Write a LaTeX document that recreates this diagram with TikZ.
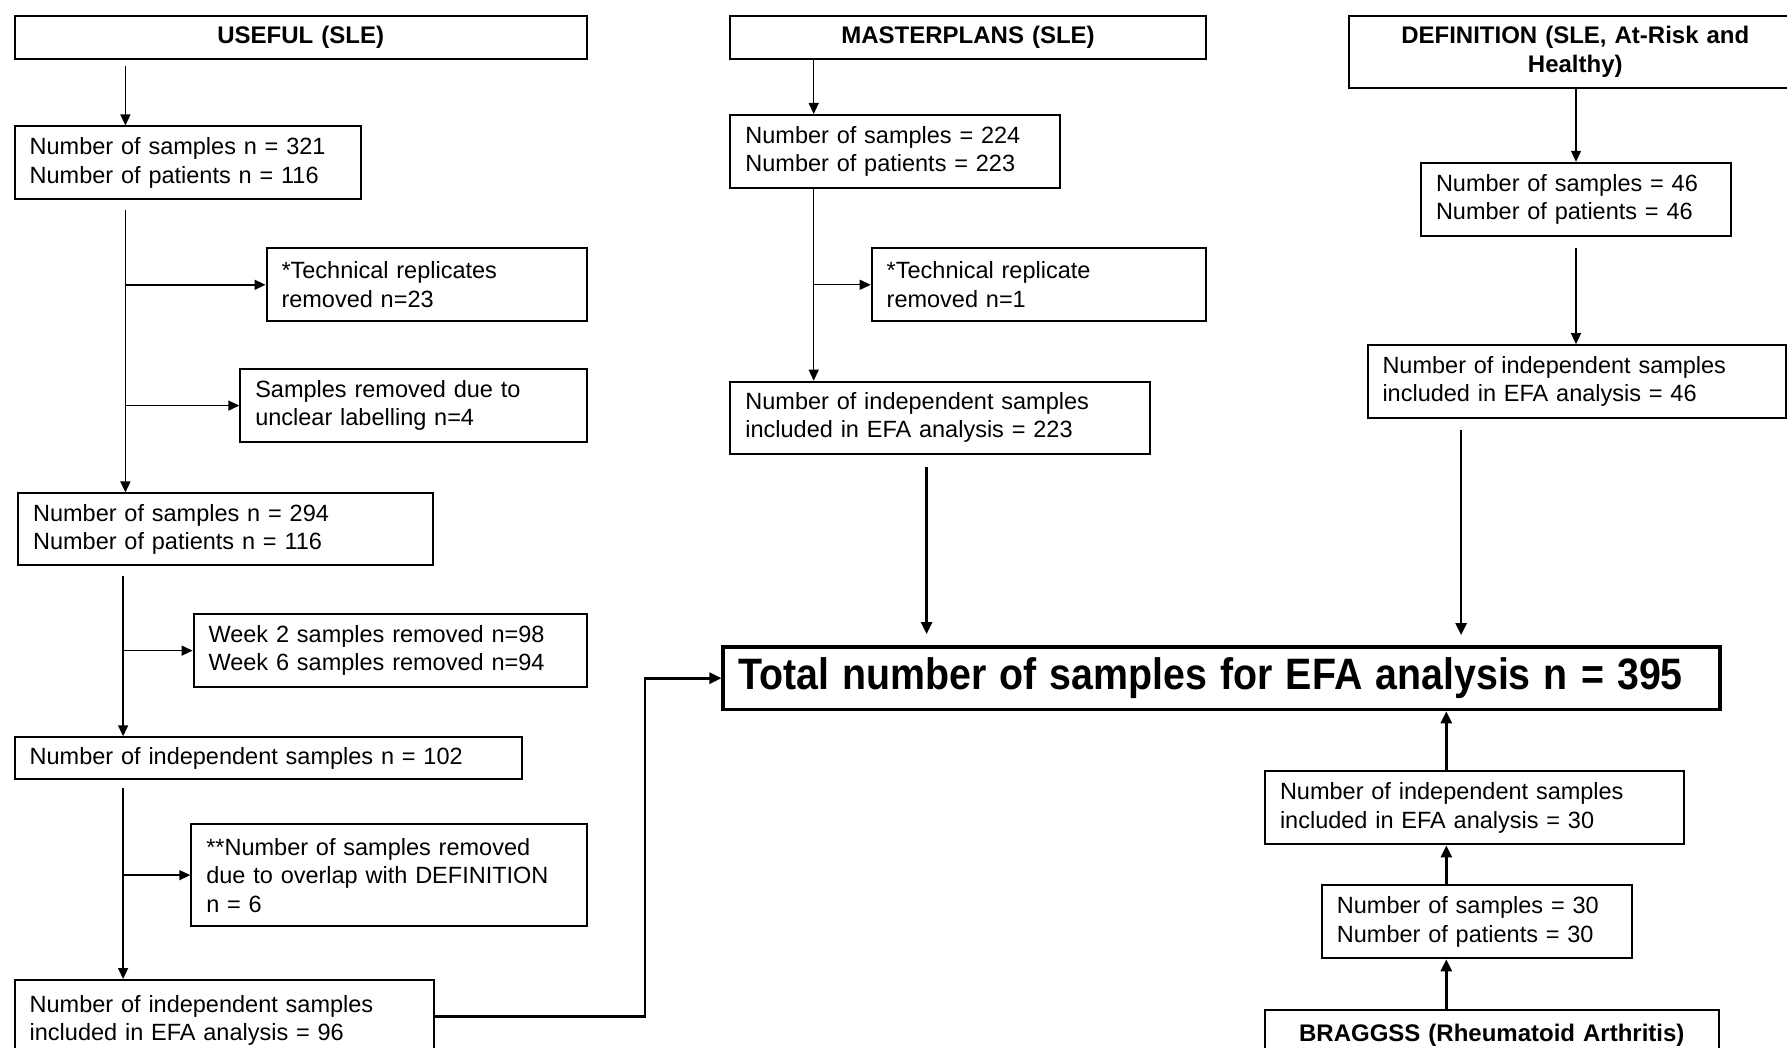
\documentclass[tikz,border=0pt]{standalone}
\usepackage{fontspec}
\setmainfont{Liberation Sans}
\usepackage{graphicx}
\usetikzlibrary{arrows.meta}
\begin{document}
\begin{tikzpicture}[x=1pt,y=-1pt,
  box/.style={draw, line width=2pt, anchor=north west, inner xsep=15pt, inner ysep=0pt, align=left, font=\fontsize{23.5}{28.5}\selectfont},
  hdr/.style={box, align=center, font=\fontsize{24}{28.5}\selectfont\bfseries},
  arr/.style={line width=1.5pt, -{Triangle[length=11pt,width=10pt]}},
  tharr/.style={line width=1.2pt, -{Triangle[length=11pt,width=10pt]}},
  tarr/.style={line width=2.6pt, -{Triangle[length=12pt,width=11pt]}}]
\fill[white] (0,0) rectangle (1787,1048);
\useasboundingbox (0,0) rectangle (1787,1048);
\clip (0,0) rectangle (1787,1048);

% left column
\node[hdr, text width=542pt, minimum height=43.3pt] (U) at (13.7,14.8) {USEFUL (SLE)};
\node[box, text width=316.5pt, minimum height=72.9pt] (A1) at (13.7,125.4) {Number of samples n = 321\\Number of patients n = 116};
\node[box, text width=290.3pt, minimum height=73pt] (T23) at (265.5,247.3) {*Technical replicates\\removed n=23};
\node[box, text width=316.5pt, minimum height=73pt] (UL) at (239.3,368.1) {Samples removed due to\\unclear labelling n=4};
\node[box, text width=384.8pt, minimum height=71.8pt] (A2) at (17.1,492.4) {Number of samples n = 294\\Number of patients n = 116};
\node[box, text width=363.2pt, minimum height=72.9pt] (WK) at (192.6,613.2) {Week 2 samples removed n=98\\Week 6 samples removed n=94};
\node[box, text width=477.1pt, minimum height=42.1pt] (A3) at (13.7,736.3) {Number of independent samples n = 102};
\node[box, text width=365.5pt, minimum height=102.5pt] (OV) at (190.3,822.9) {**Number of samples removed\\due to overlap with DEFINITION\\n = 6};
\node[box, text width=389.4pt, inner ysep=15pt] (A4) at (13.7,979) {Number of independent samples\\included in EFA analysis = 96};

% middle column
\node[hdr, text width=445.3pt, minimum height=43.3pt] (MP) at (729.4,14.8) {MASTERPLANS (SLE)};
\node[box, text width=299.4pt, minimum height=72.9pt] (M1) at (729.4,114) {Number of samples = 224\\Number of patients = 223};
\node[box, text width=304pt, minimum height=73pt] (T1) at (870.7,247.3) {*Technical replicate\\removed n=1};
\node[box, text width=389.4pt, minimum height=71.8pt] (M2) at (729.4,380.7) {Number of independent samples\\included in EFA analysis = 223};

% right column
\node[hdr, text width=422pt, minimum height=71.8pt] (DEF) at (1348.3,14.8) {DEFINITION (SLE, At-Risk and\\Healthy)};
\node[box, text width=280pt, minimum height=73pt] (D1) at (1420,161.8) {Number of samples = 46\\Number of patients = 46};
\node[box, text width=388.3pt, minimum height=72.9pt] (D2) at (1366.5,344.2) {Number of independent samples\\included in EFA analysis = 46};

% total
\node[box, line width=3.5pt, inner xsep=15pt, text width=967pt, minimum height=62.7pt, font=\fontsize{44}{50}\selectfont\bfseries] (Total) at (721.4,645.1) {\raisebox{-2pt}{\scalebox{0.894}[1]{Total number of samples for EFA analysis n = 395}}};

% bottom right
\node[box, text width=389.3pt, minimum height=73pt] (B2) at (1264,770.4) {Number of independent samples\\included in EFA analysis = 30};
\node[box, text width=280pt, minimum height=72.9pt] (B1) at (1320.9,884.4) {Number of samples = 30\\Number of patients = 30};
\node[hdr, text width=423.6pt, inner ysep=14pt] (BR) at (1264,1008.6) {BRAGGSS (Rheumatoid Arthritis)};

% helper coordinates
\coordinate (lx1) at (125.4,0);
\coordinate (lx2) at (123.1,0);
\coordinate (mx1) at (813.7,0);
\coordinate (mx2) at (926.6,0);
\coordinate (rx2) at (1461.1,0);
\coordinate (bx) at (1446.3,0);
\coordinate (cor) at (645.1,1016.6);

% left connectors
\draw[arr, shorten <=6pt] (U.south -| lx1) -- (A1.north -| lx1);
\draw[arr, shorten <=10pt] (A1.south -| lx1) -- (A2.north -| lx1);
\draw[arr] (T23.west -| lx1) -- (T23.west);
\draw[arr] (UL.west -| lx1) -- (UL.west);
\draw[arr, shorten <=10pt] (A2.south -| lx2) -- (A3.north -| lx2);
\draw[arr] (WK.west -| lx2) -- (WK.west);
\draw[arr, shorten <=8pt] (A3.south -| lx2) -- (A4.north -| lx2);
\draw[arr] (OV.west -| lx2) -- (OV.west);
\draw[tarr] (A4.east |- cor) -- (cor) |- (Total.west);

% middle connectors
\draw[tharr] (MP.south -| mx1) -- (M1.north -| mx1);
\draw[tharr] (M1.south -| mx1) -- (M2.north -| mx1);
\draw[tharr] (T1.west -| mx1) -- (T1.west);
\draw[tarr, shorten <=12pt, shorten >=11pt] (M2.south -| mx2) -- (Total.north -| mx2);

% right connectors
\draw[tharr] (DEF.south -| D1.north) -- (D1.north);
\draw[tharr, shorten <=11pt] (D1.south) -- (D1.south |- D2.north);
\draw[tarr, shorten <=11pt, shorten >=10pt] (D2.south -| rx2) -- (Total.north -| rx2);

% bottom connectors
\draw[tarr] (B2.north -| bx) -- (Total.south -| bx);
\draw[tarr] (B1.north -| bx) -- (B2.south -| bx);
\draw[tarr] (BR.north -| bx) -- (B1.south -| bx);
\end{tikzpicture}
\end{document}
